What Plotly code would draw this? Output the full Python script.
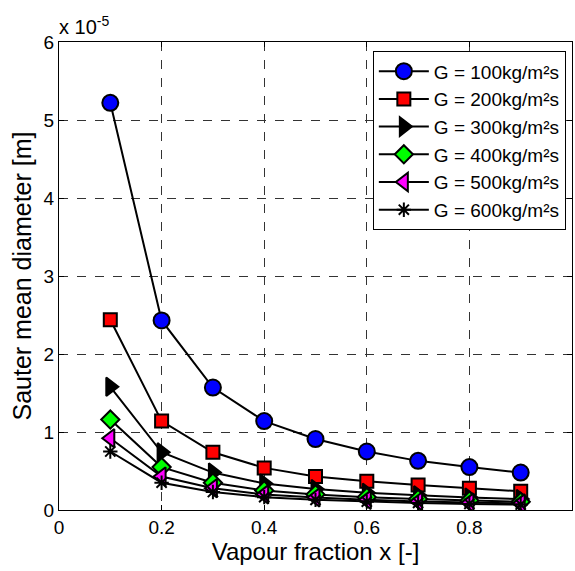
import plotly.graph_objects as go

x = [0.1, 0.2, 0.3, 0.4, 0.5, 0.6, 0.7, 0.8, 0.9]
g100 = [5.22e-5, 2.43e-5, 1.57e-5, 1.14e-5, 0.91e-5, 0.75e-5, 0.63e-5, 0.55e-5, 0.48e-5]
g200 = [2.44e-5, 1.14e-5, 0.74e-5, 0.54e-5, 0.43e-5, 0.37e-5, 0.32e-5, 0.28e-5, 0.24e-5]
g300 = [1.58e-5, 0.74e-5, 0.48e-5, 0.34e-5, 0.27e-5, 0.22e-5, 0.19e-5, 0.16e-5, 0.14e-5]
g400 = [1.16e-5, 0.55e-5, 0.35e-5, 0.25e-5, 0.20e-5, 0.165e-5, 0.14e-5, 0.12e-5, 0.105e-5]
g500 = [0.92e-5, 0.43e-5, 0.28e-5, 0.20e-5, 0.16e-5, 0.13e-5, 0.11e-5, 0.095e-5, 0.085e-5]
g600 = [0.75e-5, 0.35e-5, 0.23e-5, 0.165e-5, 0.13e-5, 0.107e-5, 0.09e-5, 0.078e-5, 0.07e-5]

names = ["G = 100kg/m²s", "G = 200kg/m²s", "G = 300kg/m²s",
         "G = 400kg/m²s", "G = 500kg/m²s", "G = 600kg/m²s"]
series = [g100, g200, g300, g400, g500, g600]
symbols = ["circle", "square", "triangle-right", "diamond", "triangle-left", "asterisk-open"]
colors = ["#0000ff", "#ff0000", "#000000", "#00ff00", "#ff00ff", "#000000"]
sizes = [16, 13, 16, 14, 16, 12]

y_ticks = [0, 1e-5, 2e-5, 3e-5, 4e-5, 5e-5, 6e-5]
y_ticktext = ["0", "1", "2", "3", "4", "5", "6"]
x_ticks = [0, 0.2, 0.4, 0.6, 0.8, 1]
x_ticktext = ["0", "0.2", "0.4", "0.6", "0.8", "1"]

FONT = "Liberation Sans"

fig = go.Figure()
for n, s, sym, c, sz in zip(names, series, symbols, colors, sizes):
    fig.add_trace(go.Scatter(
        x=x, y=s, name=n, mode="lines+markers",
        line=dict(color="black", width=2),
        marker=dict(symbol=sym, size=sz, color=c,
                    line=dict(color="black", width=2)),
    ))

axis_common = dict(
    showline=True, linecolor="black", linewidth=1, mirror="ticks",
    ticks="inside", ticklen=5, tickcolor="black",
    showgrid=True, gridcolor="#333333", griddash="dash", gridwidth=1,
    zeroline=False,
    tickfont=dict(family=FONT, size=19, color="black"),
)

fig.update_layout(
    width=575, height=571,
    margin=dict(l=59, r=3, t=42, b=61),
    paper_bgcolor="white", plot_bgcolor="white",
    font=dict(family=FONT, color="black"),
    xaxis=dict(range=[0, 1], tickvals=x_ticks, ticktext=x_ticktext,
               title=dict(text="Vapour fraction x [-]", font=dict(family=FONT, size=24), standoff=3),
               **axis_common),
    yaxis=dict(range=[0, 6e-5], tickvals=y_ticks, ticktext=y_ticktext,
               title=dict(text="Sauter mean diameter [m]", font=dict(family=FONT, size=25), standoff=4),
               **axis_common),
    legend=dict(x=0.988, y=0.98, xanchor="right", yanchor="top",
                bgcolor="white", bordercolor="black", borderwidth=1,
                font=dict(family=FONT, size=19), tracegroupgap=0, itemwidth=50),
    showlegend=True,
)

fig.add_annotation(
    xref="paper", yref="paper", x=0.0, y=1.0, xanchor="left", yanchor="bottom",
    text="x 10<sup>-5</sup>", showarrow=False,
    font=dict(family=FONT, size=20, color="black"), yshift=2, xshift=-2,
)

fig.write_html("out.html")
